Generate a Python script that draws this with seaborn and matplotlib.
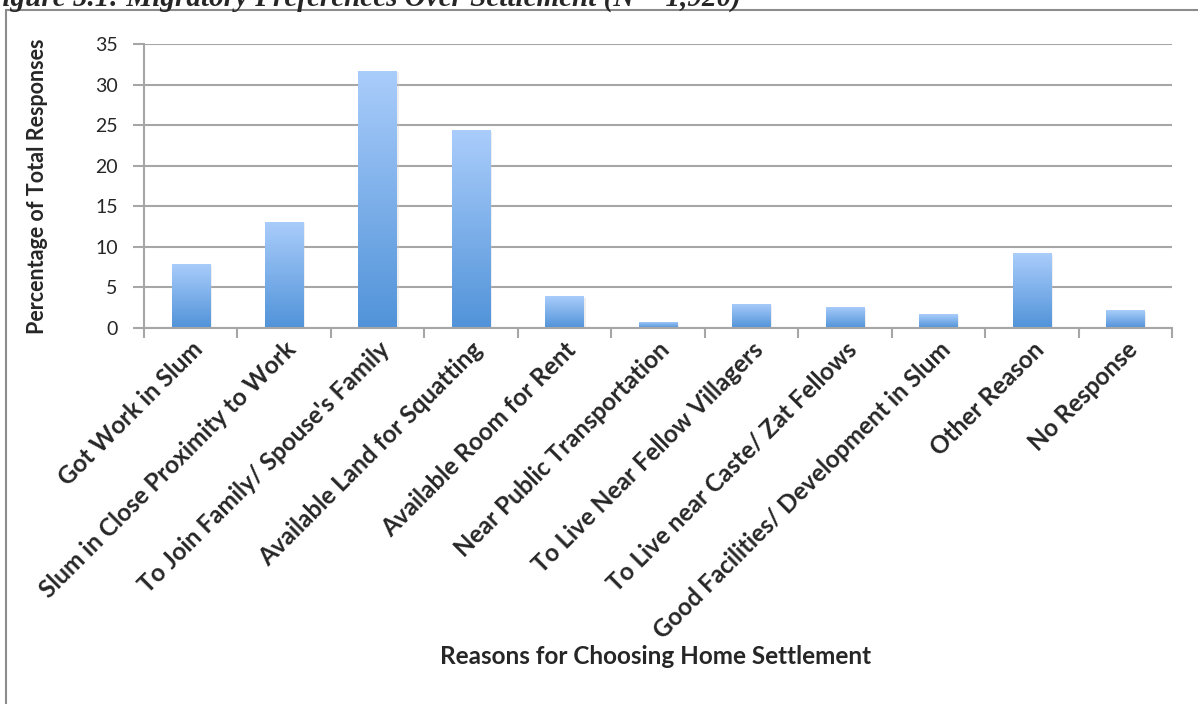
import numpy as np
import pandas as pd
import matplotlib
matplotlib.use('Agg')
import matplotlib.pyplot as plt
import matplotlib.patches as mpatches
from matplotlib.colors import LinearSegmentedColormap
import seaborn as sns

# Datos
razones = [
    "Got Work in Slum",
    "Slum in Close Proximity to Work",
    "To Join Family/ Spouse's Family",
    "Available Land for Squatting",
    "Available Room for Rent",
    "Near Public Transportation",
    "To Live Near Fellow Villagers",
    "To Live near Caste/ Zat Fellows",
    "Good Facilities/ Development in Slum",
    "Other Reason",
    "No Response",
]
porcentaje = [7.9, 13.1, 31.7, 24.4, 3.9, 0.8, 3.0, 2.6, 1.7, 9.2, 2.2]
yticks = [0, 5, 10, 15, 20, 25, 30, 35]

df = pd.DataFrame({'razon': razones, 'porcentaje': porcentaje})

sns.set_style('white')
plt.rcParams['font.family'] = ['Lato', 'DejaVu Sans']

W, H = 1198, 704
fig = plt.figure(figsize=(W / 100, H / 100), dpi=100)
ax = fig.add_axes([144 / W, 1 - 328 / H, (1172 - 144) / W, (328 - 44) / H])

sns.barplot(data=df, x='razon', y='porcentaje', ax=ax, width=0.41,
            color='#7fb0ea', saturation=1, zorder=3)

# Degradado en cada barra (claro arriba, oscuro abajo)
cmap = LinearSegmentedColormap.from_list('azul', ['#5193d9', '#aacdfb'])
grad = np.linspace(0, 1, 256).reshape(-1, 1)
for p in ax.patches:
    x0, y0 = p.get_x(), p.get_y()
    w, h = p.get_width(), p.get_height()
    # sombra suave
    sombra = mpatches.Rectangle((x0 + 0.02, y0 - 0.2), w, h, facecolor='#c8c8c8',
                                alpha=0.3, edgecolor='none', zorder=2)
    ax.add_patch(sombra)
    im = ax.imshow(grad, extent=(x0, x0 + w, y0, y0 + h), origin='lower',
                   cmap=cmap, aspect='auto', zorder=4)
    im.set_clip_path(p)
    p.set_facecolor('none')
    p.set_edgecolor('none')

ax.set_xlim(-0.5, len(razones) - 0.5)
ax.set_ylim(0, 35)
ax.set_yticks(yticks)
ax.yaxis.grid(True, color='#a6a6a6', linewidth=1.5, zorder=0)
ax.set_axisbelow(True)

for s in ['top', 'right']:
    ax.spines[s].set_visible(False)
for s in ['left', 'bottom']:
    ax.spines[s].set_color('#a6a6a6')
    ax.spines[s].set_linewidth(1.5)
    ax.spines[s].set_zorder(5)

ax.tick_params(axis='y', which='major', direction='out', length=8, width=1.5,
               color='#a6a6a6', labelsize=14, pad=11, left=True)
ax.set_xticks(np.arange(len(razones)))
ax.set_xticks(np.arange(-0.5, len(razones)), minor=True)
ax.tick_params(axis='x', which='major', length=0, pad=7)
ax.tick_params(axis='x', which='minor', direction='out', length=7, width=1.5,
               color='#a6a6a6', bottom=True)
ax.set_xticklabels(razones, rotation=45, ha='right', rotation_mode='anchor',
                   fontsize=17.5, fontweight='bold')

ax.set_ylabel("Percentage of Total Responses", fontsize=15.5, fontweight='bold')
ax.yaxis.set_label_coords((48 - 144) / 1028, 0.5)
ax.set_xlabel("")
fig.text(656 / W, 1 - 657 / H, "Reasons for Choosing Home Settlement",
         ha='center', va='center', fontsize=17.5, fontweight='bold')

# Marco del gráfico y título cortado
borde = mpatches.Rectangle((6 / W, -0.05), 1.2, 1 - 10 / H + 0.05, transform=fig.transFigure,
                           facecolor='none', edgecolor='#8c8c8c', linewidth=1.5)
fig.patches.append(borde)
fig.text(-17 / W, 1 - 6 / H, "Figure 5.1: Migratory Preferences Over Settlement (N = 1,920)",
         ha='left', va='baseline', fontsize=21, fontweight='bold', fontstyle='italic',
         family=['Liberation Serif', 'DejaVu Serif'])

fig.savefig('out.png', dpi=100)
